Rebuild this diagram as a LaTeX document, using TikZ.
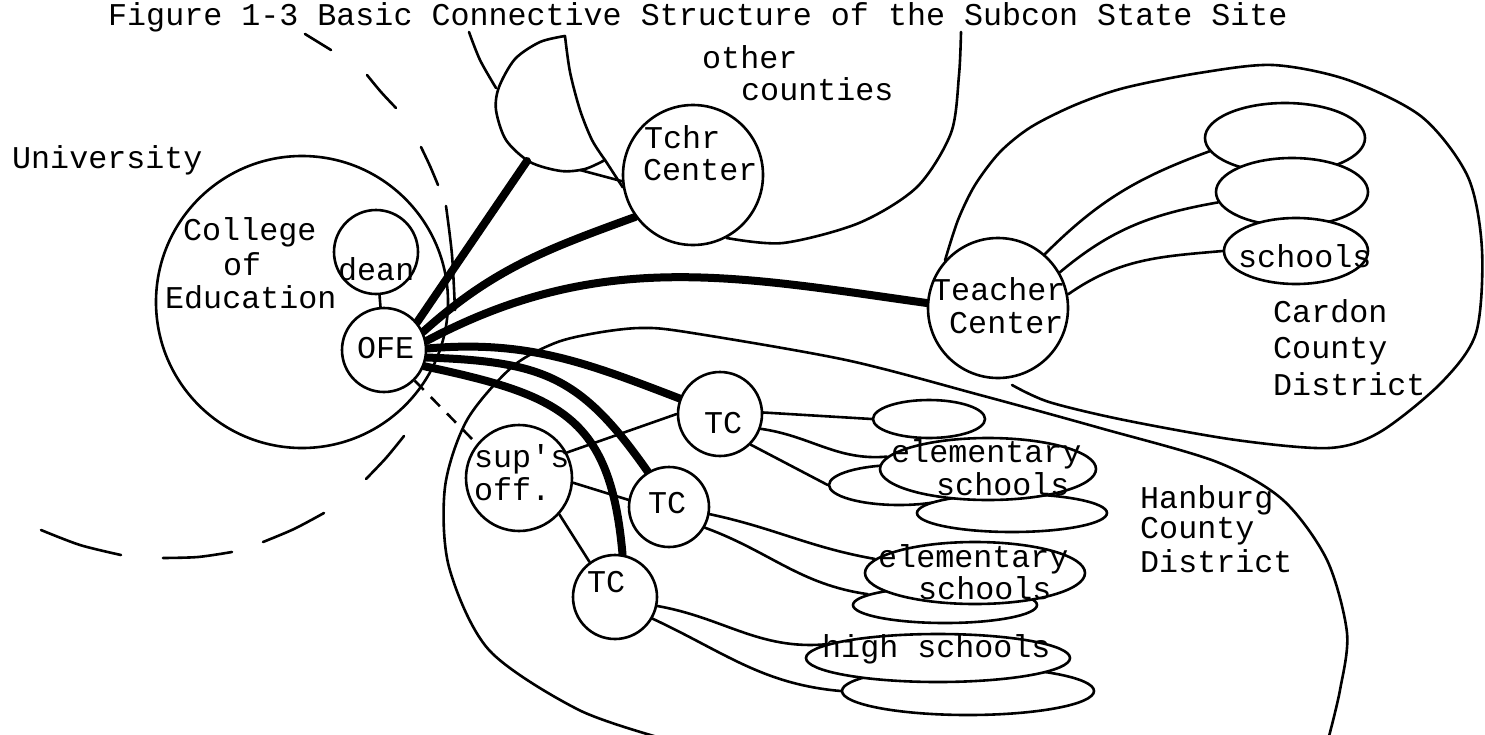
\documentclass[tikz,border=0pt]{standalone}
\usepackage{fontspec}
\setmainfont{Liberation Mono}
\usetikzlibrary{shapes.geometric}
\pgfdeclarelayer{back}
\pgfdeclarelayer{bg}
\pgfsetlayers{back,bg,main}
\begin{document}
\begin{tikzpicture}[x=1pt,y=-1pt,
  ln/.style={line width=2.6pt, line cap=round, line join=round},
  heavy/.style={line width=8pt, line cap=round},
  hub/.style={circle, draw, fill=white, line width=2.6pt, inner sep=0pt},
  blob/.style={ellipse, draw, fill=white, line width=2.6pt, inner sep=0pt},
  lbl/.style={font=\fontsize{31.7}{34}\selectfont, inner sep=0pt, anchor=base west},
]
\begin{pgfonlayer}{back}
  \fill[white] (0,0) rectangle (1485,734);
\end{pgfonlayer}
\useasboundingbox (0,0) rectangle (1485,734);

% ---------- circles ----------
\node[hub, fill=none, minimum size=292] (coe) at (302,302) {};
\node[hub, minimum size=84]  (dean) at (376,252) {};
\node[hub, minimum size=84]  (ofe)  at (384,350) {};
\node[hub, minimum size=140] (tchr) at (693,175) {};
\node[hub, minimum size=140] (tcc)  at (998,308) {};
\node[hub, minimum size=84]  (tc1)  at (720,414) {};
\node[hub, minimum size=80]  (tc2)  at (669,507) {};
\node[hub, minimum size=84]  (tc3)  at (615,597) {};
\node[hub, minimum size=106] (sup)  at (519,478) {};

% ---------- school groups ----------
\node[blob, minimum width=140, minimum height=40] (es1c) at (899,485) {};
\node[blob, minimum width=190, minimum height=38] (es1d) at (1012,513) {};
\node[blob, minimum width=112, minimum height=38] (es1a) at (929,419) {};
\node[blob, minimum width=216, minimum height=62] (es1)  at (988,469) {};
\node[blob, minimum width=184, minimum height=36] (es2b) at (945,605) {};
\node[blob, minimum width=220, minimum height=62] (es2)  at (975,573) {};
\node[blob, minimum width=252, minimum height=48] (es3b) at (968,691) {};
\node[blob, minimum width=264, minimum height=48] (es3)  at (938,658) {};
\node[blob, minimum width=160, minimum height=70] (ct1)  at (1285,138) {};
\node[blob, minimum width=152, minimum height=68] (ct2)  at (1292,192) {};
\node[blob, minimum width=144, minimum height=66] (ct3)  at (1296,251) {};

\coordinate (hmfoot) at (527,161);
\coordinate (hmbot)  at (580,170);
\coordinate (hmtip)  at (605,160);
\coordinate (cdend)  at (1012,385);

\begin{pgfonlayer}{bg}
  % University (broken outline)
  \draw[ln] (305,34) -- (331,50);
  \draw[ln] plot[smooth] coordinates {(367,75) (381,92) (396,108)};
  \draw[ln] plot[smooth] coordinates {(421,147) (430,166) (438,185)};
  \draw[ln] plot[smooth] coordinates {(446,206) (452,255) (455,310)};
  \draw[ln] plot[smooth] coordinates {(404,436) (386,458) (366,479)};
  \draw[ln] plot[smooth] coordinates {(324,513) (294,529) (263,542)};
  \draw[ln] plot[smooth] coordinates {(232,552) (198,557) (163,558)};
  \draw[ln] plot[smooth] coordinates {(121,555) (80,545) (41,530)};

  % other counties
  \draw[ln] plot[smooth] coordinates {(469,32) (480,60) (496,88)};
  \draw[ln] plot[smooth] coordinates {(tchr.-62) (783,243) (859,223) (917,187) (951,133) (959,75) (961,32)};
  \draw[ln, fill=white] plot[smooth] coordinates {(565,36) (540,42) (515,59) (499,87) (496,110) (506,140) (530,162) (561,171) (585,169) (hmtip)}
     -- plot[smooth] coordinates {(hmtip) (592,140) (580,110) (570,72) (565,36)} -- cycle;
  \draw[ln] (hmtip) -- (tchr.190);
  \draw[ln] (hmbot) -- (tchr.185);

  % Cardon County District
  \draw[ln] plot[smooth] coordinates {(tcc.138) (958,220) (975,185) (1000,152) (1031,127) (1075,105) (1124,88) (1199,73) (1273,65) (1348,80) (1422,117) (1468,177) (1482,250) (1476,333) (1441,383) (1380,432) (1329,448) (1236,440) (1124,420) (1049,402) (cdend)};

  % Hanburg County District
  \draw[ln] plot[smooth] coordinates {(668,740) (579,710) (489,650) (449,567) (445,487) (467,420) (512,367) (555,343) (596,333) (640,328) (686,332) (846,360) (980,395) (1100,428) (1217,462) (1283,500) (1327,560) (1347,633) (1340,690) (1328,740)};

  % thin links
  \draw[ln] (dean) -- (ofe);
  \draw[ln, line cap=butt, dash pattern=on 13pt off 10pt] (ofe.-45) -- (sup.141);
  \draw[ln] (sup.28) -- (tc1.180);
  \draw[ln] (sup.-5) -- (tc2.170);
  \draw[ln] (sup.-42) -- (tc3.126);
  \draw[ln] (tc1.2) -- (es1a.west);
  \draw[ln] (tc1.-20) to[out=-8,in=185] (es1.173);
  \draw[ln] (tc1.-45) -- (es1c.west);
  \draw[ln] (tc2.-10) to[out=-12,in=170] (es2.172);
  \draw[ln] (tc2.-30) to[out=-20,in=172] (es2b.172);
  \draw[ln] (tc3.-12) to[out=-10,in=185] (es3.173);
  \draw[ln] (tc3.-30) to[out=-25,in=175] (es3b.west);
  \draw[ln] (tcc.49) to[out=45,in=200] (ct1.190);
  \draw[ln] (tcc.30) to[out=40,in=190] (ct2.188);
  \draw[ln] (tcc.11) to[out=35,in=185] (ct3.west);

  % heavy links from OFE
  \draw[heavy] (ofe.40) -- (hmfoot);
  \draw[heavy] (ofe.25) to[out=42,in=200] (tchr.216);
  \draw[heavy] (ofe.12) to[out=28,in=172] (tcc.176);
  \draw[heavy] (ofe.2) to[out=5,in=159] (tc1.159);
  \draw[heavy] (ofe.-10) to[out=-2,in=125,looseness=1.2] (tc2.121);
  \draw[heavy] (ofe.-22) to[out=-12,in=95,looseness=1.3] (tc3.80);
\end{pgfonlayer}

% ---------- texts ----------
\node[lbl] (title) at (108,25) {Figure 1-3 Basic Connective Structure of the Subcon State Site};
\node[lbl] (univ) at (12,168) {University};
\node[lbl] (coe1) at (183,240) {College};
\node[lbl] (coe2) at (223,275) {of};
\node[lbl] (coe3) at (165,308) {Education};
\node[lbl] (deant) at (338,280) {dean};
\node[lbl] (ofet) at (357,358) {OFE};
\node[lbl] (oc1) at (702,68) {other};
\node[lbl] (oc2) at (741,100) {counties};
\node[lbl] (tchr1) at (644,148) {Tchr};
\node[lbl] (tchr2) at (643,180) {Center};
\node[lbl] (tcc1) at (932,300) {Teacher};
\node[lbl] (tcc2) at (949,333) {Center};
\node[lbl] (ct3t) at (1238,267) {schools};
\node[lbl] (cd1) at (1273,322) {Cardon};
\node[lbl] (cd2) at (1273,358) {County};
\node[lbl] (cd3) at (1273,395) {District};
\node[lbl] (sup1) at (474,467) {sup\textquotesingle s};
\node[lbl] (sup2) at (474,500) {off.};
\node[lbl] (tc1t) at (704,433) {TC};
\node[lbl] (tc2t) at (648,513) {TC};
\node[lbl] (tc3t) at (587,592) {TC};
\node[lbl] (es1t1) at (891,462) {elementary};
\node[lbl] (es1t2) at (936,495) {schools};
\node[lbl] (es2t1) at (878,567) {elementary};
\node[lbl] (es2t2) at (918,599) {schools};
\node[lbl] (es3t) at (822,657) {high schools};
\node[lbl] (hb1) at (1140,508) {Hanburg};
\node[lbl] (hb2) at (1140,538) {County};
\node[lbl] (hb3) at (1140,572) {District};
\end{tikzpicture}
\end{document}
